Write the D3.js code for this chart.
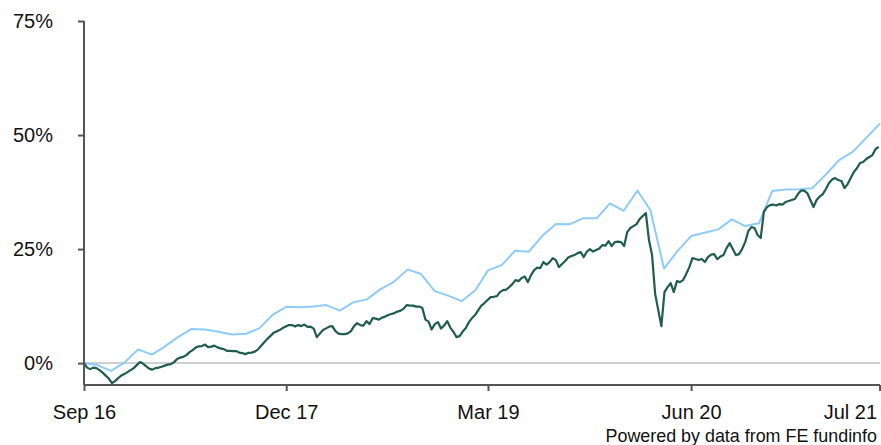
<!DOCTYPE html>
<html>
<head>
<meta charset="utf-8">
<script src="https://cdn.jsdelivr.net/npm/d3@7"></script>
<style>
  html, body { margin: 0; padding: 0; background: #fff; }
  svg { display: block; font-family: "Liberation Sans", Arial, sans-serif; }
</style>
</head>
<body>
<svg id="chart" width="881" height="445"></svg>
<script>
// ---- data ----
const startDate = "2016-09-01";
const endDate = "2021-08-01";
const tickDates = ["2016-09-01", "2017-12-01", "2019-03-01", "2020-06-01", "2021-07-31"];
const yTicks = [0, 25, 50, 75];
const creditText = "Powered by data from FE fundinfo";

// benchmark: monthly cumulative % growth (light blue)
const benchmarkValues = [
  0.0, -0.44, -1.69, 0.11, 3.00, 1.86, 3.57, 5.70, 7.46, 7.39,
  6.86, 6.25, 6.43, 7.61, 10.64, 12.35, 12.22, 12.39, 12.72, 11.51,
  13.31, 13.97, 16.16, 17.83, 20.55, 19.52, 15.79, 14.80, 13.60, 16.01,
  20.33, 21.49, 24.63, 24.41, 27.85, 30.48, 30.42, 31.73, 31.73, 35.02,
  33.40, 37.83, 33.55, 20.72, 24.56, 27.85, 28.57, 29.32, 31.51, 30.04,
  30.64, 37.72, 38.05, 38.09, 38.31, 41.34, 44.52, 46.34, 49.39, 52.52
];

// fund: weekly cumulative % growth (dark green)
const fundValues = [
  0.00, -0.99, -1.32, -0.99, -1.10, -1.54, -2.08, -2.74, -3.40, -4.39,
  -3.95, -3.29, -2.74, -2.41, -1.97, -1.54, -1.10, -0.44, 0.22, -0.11,
  -0.66, -1.21, -1.43, -1.10, -0.99, -0.81, -0.55, -0.33, -0.22, 0.22,
  0.88, 1.21, 1.38, 1.75, 2.41, 2.85, 3.40, 3.68, 3.73, 4.06,
  3.51, 3.62, 3.84, 3.44, 3.22, 3.07, 2.70, 2.70, 2.63, 2.63,
  2.30, 2.19, 1.97, 2.26, 2.30, 2.52, 2.96, 3.73, 4.50, 5.26,
  5.92, 6.58, 6.91, 7.24, 7.68, 8.00, 8.33, 8.33, 8.00, 8.33,
  8.11, 8.44, 7.96, 8.00, 7.57, 5.70, 6.47, 7.24, 7.61, 8.00,
  8.11, 7.02, 6.47, 6.36, 6.36, 6.51, 7.02, 8.11, 8.77, 8.33,
  8.22, 9.21, 8.55, 9.87, 9.76, 9.54, 9.98, 10.20, 10.53, 10.75,
  10.96, 11.29, 11.51, 11.95, 12.72, 12.61, 12.61, 12.39, 12.39, 12.06,
  9.54, 9.10, 7.35, 8.55, 8.99, 7.57, 8.22, 9.21, 7.79, 6.86,
  5.70, 5.92, 6.91, 7.68, 8.99, 9.87, 10.53, 11.62, 12.61, 13.16,
  13.82, 14.47, 14.54, 14.69, 15.57, 16.01, 16.12, 16.67, 17.32, 18.20,
  17.98, 18.64, 18.97, 17.76, 19.30, 20.39, 20.94, 20.83, 22.15, 21.60,
  22.15, 23.03, 22.59, 21.05, 21.71, 22.37, 23.14, 23.47, 23.68, 24.12,
  24.34, 23.25, 24.45, 25.00, 24.45, 24.78, 25.11, 25.88, 25.77, 26.75,
  25.66, 26.53, 26.64, 26.53, 25.66, 28.73, 29.61, 30.04, 30.48, 31.58,
  32.24, 32.89, 26.97, 23.68, 15.13, 11.62, 8.11, 15.57, 16.67, 17.54,
  15.57, 17.98, 17.76, 18.20, 19.52, 21.05, 23.03, 22.81, 22.59, 22.81,
  22.15, 23.25, 23.79, 23.90, 22.81, 23.36, 23.68, 25.22, 26.32, 25.00,
  23.68, 23.90, 25.00, 26.53, 28.95, 29.82, 29.61, 28.07, 27.41, 33.11,
  34.21, 34.65, 34.76, 34.54, 34.87, 34.76, 35.31, 35.53, 35.75, 35.97,
  37.06, 37.83, 37.83, 37.28, 35.75, 34.21, 35.75, 36.51, 37.06, 38.16,
  39.47, 40.24, 40.57, 40.13, 39.91, 38.38, 39.25, 40.57, 41.89, 42.76,
  43.86, 44.08, 44.74, 45.18, 45.61, 46.93, 47.37
];

// ---- layout ----
const W = 881, H = 445;
const margin = { top: 21, right: 1, bottom: 60, left: 84 };
const parse = d3.utcParse("%Y-%m-%d");
const t0 = parse(startDate);

const benchmark = benchmarkValues.map((v, i) => ({ date: d3.utcMonth.offset(t0, i), value: v }));
const fund = fundValues.map((v, i) => ({ date: d3.utcDay.offset(t0, 7 * i), value: v }));

const svg = d3.select("#chart");

const x = d3.scaleUtc()
  .domain([t0, parse(endDate)])
  .range([margin.left, W - margin.right]);

const y = d3.scaleLinear()
  .domain([-4.8, 75])
  .range([H - margin.bottom, margin.top]);

// zero reference line
svg.append("line")
  .attr("x1", x.range()[0]).attr("x2", x.range()[1])
  .attr("y1", y(0)).attr("y2", y(0))
  .attr("stroke", "#d0d0d0").attr("stroke-width", 2);

// lines
const line = d3.line().x(d => x(d.date)).y(d => y(d.value));

svg.append("path")
  .datum(benchmark)
  .attr("fill", "none")
  .attr("stroke", "#8ecbf7")
  .attr("stroke-width", 2)
  .attr("stroke-linejoin", "round")
  .attr("d", line);

svg.append("path")
  .datum(fund)
  .attr("fill", "none")
  .attr("stroke", "#1f5e4c")
  .attr("stroke-width", 2.2)
  .attr("stroke-linejoin", "round")
  .attr("d", line);

// y axis
const yAxis = svg.append("g")
  .attr("transform", `translate(${margin.left},0)`)
  .call(d3.axisLeft(y).tickValues(yTicks).tickFormat(d => d + "%").tickSize(6).tickPadding(25));
yAxis.select(".domain").attr("stroke", "#555").attr("stroke-width", 2)
  .attr("d", `M0,${y.range()[0]}V${y.range()[1]}`);
yAxis.selectAll(".tick line").attr("stroke", "#555").attr("stroke-width", 2);
yAxis.selectAll(".tick text")
  .attr("font-size", 20).attr("fill", "#111")
  .attr("font-family", "Liberation Sans, Arial, sans-serif");

// x axis
const xAxis = svg.append("g")
  .attr("transform", `translate(0,${H - margin.bottom})`)
  .call(d3.axisBottom(x).tickValues(tickDates.map(parse)).tickFormat(d3.utcFormat("%b %y")).tickSize(6).tickPadding(14));
xAxis.select(".domain").attr("stroke", "#555").attr("stroke-width", 2)
  .attr("d", `M${x.range()[0]},0H${x.range()[1]}`);
xAxis.selectAll(".tick line").attr("stroke", "#555").attr("stroke-width", 2);
xAxis.selectAll(".tick text")
  .attr("font-size", 20).attr("fill", "#111")
  .attr("font-family", "Liberation Sans, Arial, sans-serif");
// keep the last label inside the frame
xAxis.selectAll(".tick text").filter((d, i, n) => i === n.length - 1)
  .attr("text-anchor", "end").attr("dx", -3);

// credit
svg.append("text")
  .attr("x", W - 4).attr("y", H - 3)
  .attr("text-anchor", "end")
  .attr("font-size", 17.9)
  .attr("fill", "#111")
  .text(creditText);
</script>
</body>
</html>
